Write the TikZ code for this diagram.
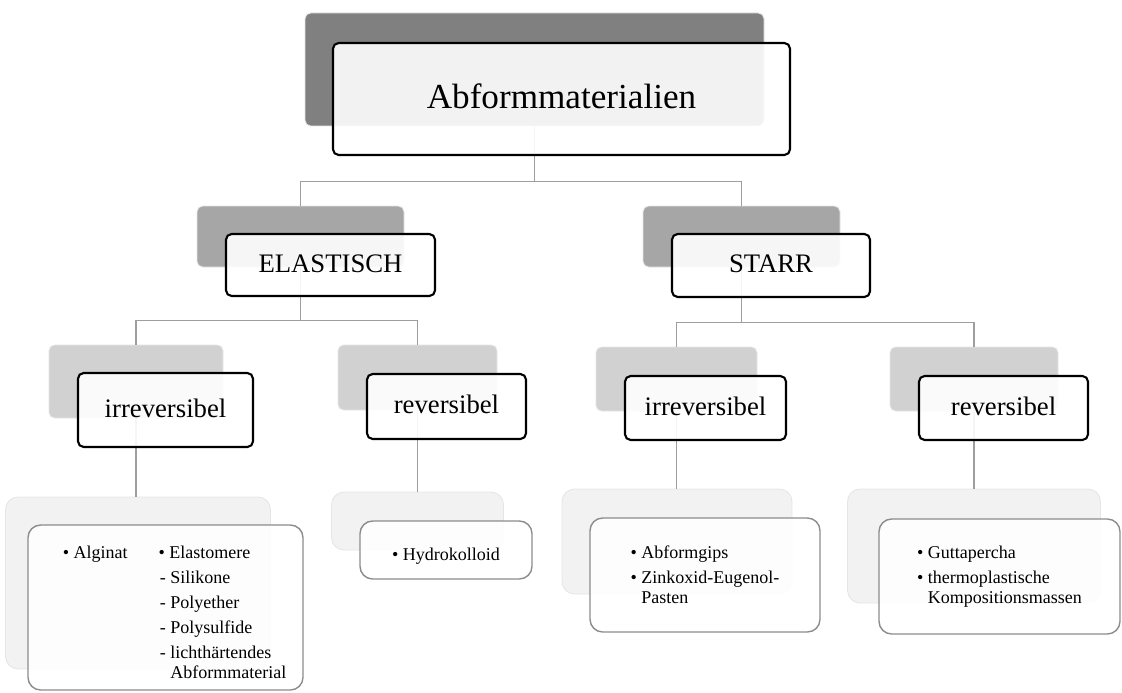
\documentclass[tikz,border=0pt]{standalone}
\usepackage{fontspec}
\setmainfont{Liberation Serif}

\begin{document}
\begin{tikzpicture}[x=0.25mm, y=-0.25mm,
  sz/.style 2 args={minimum width=#1*0.25mm, minimum height=#2*0.25mm, inner sep=0pt},
  back/.style={rectangle, rounded corners=4pt, draw=black!10, line width=0.6pt},
  front/.style={rectangle, rounded corners=4pt, draw=black, line width=1.5pt, fill=white, fill opacity=0.9, text opacity=1},
  leaf/.style={rectangle, rounded corners=9pt, draw=black!45, line width=1pt, fill=white, fill opacity=0.9, text opacity=1, align=left},
  link/.style={draw=black!38, line width=1.2pt},
  big/.style={font=\fontsize{25}{30}\selectfont, text height=18pt, text depth=5pt},
  mid/.style={font=\fontsize{19}{23}\selectfont, text height=14pt, text depth=4pt},
  small/.style={font=\fontsize{12.8}{14.5}\selectfont}]
\useasboundingbox (0,0) rectangle (1122,693);

% hintere Kaesten
\node[back, fill=black!50, sz={459}{113}] (topB) at (534.5,69.5) {};
\node[back, fill=black!35, sz={207}{61}] (elastB) at (300.5,236.5) {};
\node[back, fill=black!35, sz={197}{61}] (starrB) at (741.5,236.5) {};
\node[back, fill=black!18, sz={174}{73}] (irrLB) at (136,381.5) {};
\node[back, fill=black!18, sz={159}{65}] (revLB) at (417.5,377.5) {};
\node[back, fill=black!18, sz={161}{64}] (irrRB) at (676.5,379) {};
\node[back, fill=black!18, sz={168}{64}] (revRB) at (974,379) {};
\node[back, fill=black!5, rounded corners=9pt, sz={265}{172}] (algB) at (138,583) {};
\node[back, fill=black!5, rounded corners=9pt, sz={172}{58}] (hydB) at (417.5,521) {};
\node[back, fill=black!5, rounded corners=9pt, sz={230}{105}] (gipsB) at (677,541.5) {};
\node[back, fill=black!5, rounded corners=9pt, sz={253}{114}] (guttB) at (974,546) {};

% Verbindungen
\draw[link] (topB.south) -- ++(0,55) -| (elastB.north);
\draw[link] (topB.south) -- ++(0,55) -| (starrB.north);
\draw[link] (elastB.south) -- ++(0,53) -| (irrLB.north);
\draw[link] (elastB.south) -- ++(0,53) -| (revLB.north);
\draw[link] (starrB.south) -- ++(0,55) -| (irrRB.north);
\draw[link] (starrB.south) -- ++(0,55) -| (revRB.north);
\draw[link] (irrLB.south) -- (irrLB.south |- algB.north);
\draw[link] (revLB.south) -- (revLB.south |- hydB.north);
\draw[link] (irrRB.south) -- (irrRB.south |- gipsB.north);
\draw[link] (revRB.south) -- (revRB.south |- guttB.north);

% vordere Kaesten
\node[front, big, sz={457}{112}] (top) at (561.5,99) {Abformmaterialien};
\node[front, mid, sz={209}{62}] (elast) at (330.5,265) {ELASTISCH};
\node[front, mid, sz={198}{63}] (starr) at (771,265.5) {STARR};
\node[front, mid, sz={175}{74}] (irrL) at (165.5,410) {irreversibel};
\node[front, mid, sz={159}{65}] (revL) at (446.5,406.5) {reversibel};
\node[front, mid, sz={161}{64}] (irrR) at (705.5,408) {irreversibel};
\node[front, mid, sz={169}{64}] (revR) at (1003.5,408) {reversibel};

\node[leaf, small, sz={275}{165}] (alg) at (165.5,607.5) {%
  \begin{tabular}{@{\hspace{13pt}}l@{\hspace{22pt}}l@{}}
  \rule{0pt}{20pt}• Alginat & • Elastomere\\[3.3pt]
   & \hspace{1pt}- Silikone\\[3.3pt]
   & \hspace{1pt}- Polyether\\[3.3pt]
   & \hspace{1pt}- Polysulfide\\[3.3pt]
   & \hspace{1pt}- lichthärtendes\\
   & \hspace{1pt}\hphantom{- }Abformmaterial
  \end{tabular}};
\node[leaf, small, text height=17.5pt, text depth=3pt, sz={172}{58}] (hyd) at (446,550) {• Hydrokolloid};
\node[leaf, small, sz={230}{114}] (gips) at (705,575) {• Abformgips\\[3.3pt]
  • Zinkoxid-Eugenol-\\\hphantom{• }Pasten};
\node[leaf, small, sz={241}{115}] (gutt) at (999.5,576.5) {• Guttapercha\\[3.3pt]
  • thermoplastische\\\hphantom{• }Kompositionsmassen};
\end{tikzpicture}
\end{document}
